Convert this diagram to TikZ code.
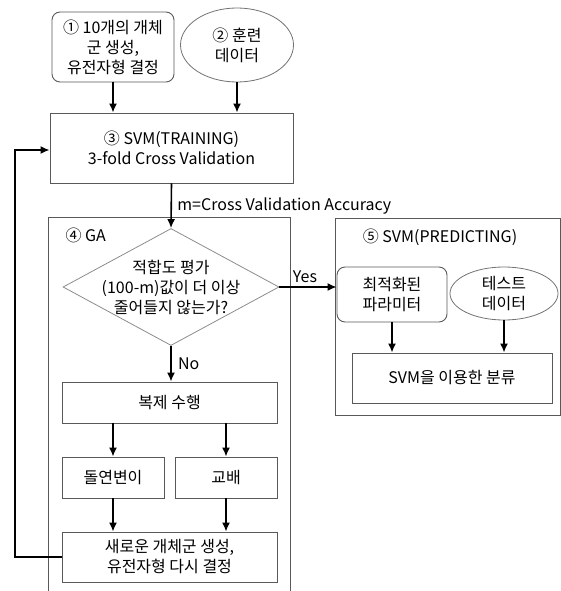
\documentclass[tikz,border=0pt]{standalone}
\usepackage{fontspec}
\setmainfont{Noto Sans CJK KR}
\usepackage{tikz}
\usetikzlibrary{arrows.meta,positioning,calc,shapes.geometric}

\begin{document}
\begin{tikzpicture}[
    x=1pt, y=-1pt,
    font=\fontsize{16}{20}\selectfont,
    >={Latex[length=9pt,width=8pt]},
    flow/.style={->, line width=1.6pt, black},
    stepbox/.style={draw=black!65, line width=0.9pt, align=center, inner sep=0pt},
    roundbox/.style={stepbox, rounded corners=8pt},
    databox/.style={ellipse, draw=black!55, line width=0.8pt, align=center, inner sep=0pt},
    decision/.style={diamond, draw=black!45, line width=0.8pt, align=center, aspect=1.85, inner sep=-14pt},
    frame/.style={draw=black!65, line width=0.9pt}
]
\useasboundingbox (0,0) rectangle (561,591);

% top row and training
\node[roundbox, minimum width=122pt, minimum height=70pt] (init) at (113,47) {① 10개의 개체\\군 생성,\\유전자형 결정};
\node[databox, minimum width=113pt, minimum height=74pt] (train) at (237,45) {② 훈련\\데이터};
\node[stepbox, minimum width=243pt, minimum height=70pt] (svmtrain) at (171.5,148) {③ SVM(TRAINING)\\3-fold Cross Validation};
\draw[flow] (init.south) -- (init.south |- svmtrain.north);
\draw[flow] (train.south) -- (train.south |- svmtrain.north);

% GA part
\draw[frame] (48,591) -- (48,217) -- (290,217) -- (290,591);
\node[anchor=west] (galbl) at (62,235) {④ GA};
\node[decision, minimum width=216pt, minimum height=117pt] (fit) at (171,287) {적합도 평가\\(100-m)값이 더 이상\\줄어들지 않는가?};
\draw[flow] (svmtrain.south) -- node[anchor=west, xshift=2pt] (mlbl) {m=Cross Validation Accuracy} (fit.north);

\node[stepbox, minimum width=215pt, minimum height=41pt] (copy) at (169.5,402.5) {복제 수행};
\node[stepbox, minimum width=102pt, minimum height=41pt] (mut) at (113,477.5) {돌연변이};
\node[stepbox, minimum width=102pt, minimum height=41pt] (cross) at (226,477.5) {교배};
\node[stepbox, minimum width=215pt, minimum height=50pt] (newpop) at (169.5,557) {새로운 개체군 생성,\\유전자형 다시 결정};
\draw[flow] (fit.south) -- node[anchor=west, xshift=3pt] (nolbl) {No} (fit.south |- copy.north);
\draw[flow] (mut.north |- copy.south) -- (mut.north);
\draw[flow] (cross.north |- copy.south) -- (cross.north);
\draw[flow] (mut.south) -- (mut.south |- newpop.north);
\draw[flow] (cross.south) -- (cross.south |- newpop.north);

% feedback loop
\coordinate (fb) at (15,150);
\draw[flow] (newpop.west) -| (fb) -- (fb -| svmtrain.west);

% predicting part
\draw[frame] (335,218) rectangle (560,415);
\node (predlbl) at (440,237) {⑤ SVM(PREDICTING)};
\node[roundbox, minimum width=110pt, minimum height=55pt] (opt) at (392,294.5) {최적화된\\파라미터};
\node[databox, minimum width=108pt, minimum height=53pt] (test) at (504,293.5) {테스트\\데이터};
\node[stepbox, minimum width=200pt, minimum height=50pt] (classify) at (452,378) {SVM을 이용한 분류};
\draw[flow] (fit.east) -- node[above, xshift=-3pt] (yeslbl) {Yes} (fit.east -| opt.west);
\draw[flow] (opt.south) -- (opt.south |- classify.north);
\draw[flow] (test.south) -- (test.south |- classify.north);
\end{tikzpicture}
\end{document}
